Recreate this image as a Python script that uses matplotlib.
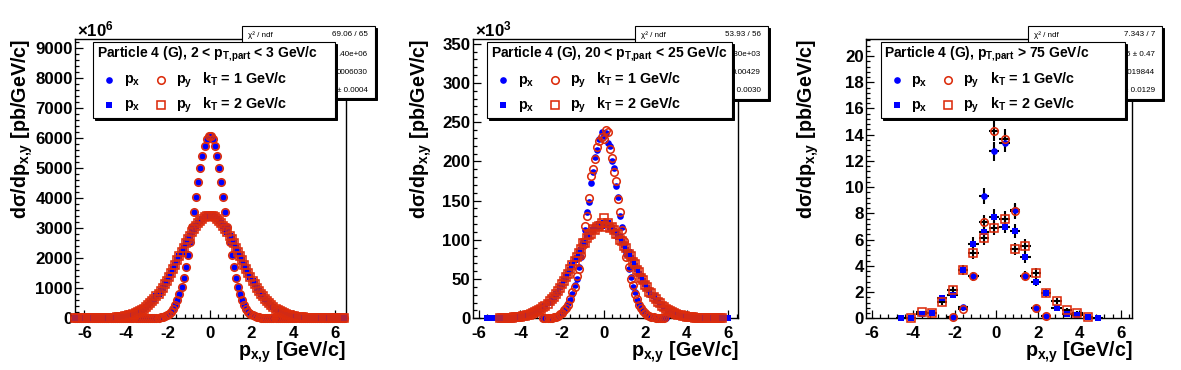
import numpy as np
import matplotlib
matplotlib.use('Agg')
import matplotlib.pyplot as plt
from matplotlib.patches import Rectangle
from matplotlib.lines import Line2D
from matplotlib.ticker import MultipleLocator

# ---- panel 1: 2 < pT,part < 3 GeV/c, y in units of 1e6 pb/GeV/c, 0.1 GeV/c bins
p1_first = -6.45
p1_width = 0.1
p1_px_k1 = [0.1, 0.1, 0.1, 0.1, 0.1, 0.1, 0.1, 0.1, 0.1, 0.1,
            0.1, 0.1, 0.1, 0.1, 0.1, 0.1, 0.1, 0.1, 0.1, 0.1,
            0.1, 0.1, 0.1, 0.1, 0.1, 0.1, 0.1, 0.1, 0.1, 0.1,
            0.1, 0.2, 0.3, 0.5, 1, 1, 2, 4, 7, 12,
            19, 30, 46, 71, 106, 156, 225, 318, 442, 601,
            803, 1052, 1352, 1704, 2106, 2555, 3038, 3546, 4058, 4556,
            5018, 5420, 5743, 5969, 6085,
            6085, 5969, 5743, 5420, 5018, 4556, 4058, 3546, 3038, 2555,
            2106, 1704, 1352, 1052, 803, 601, 442, 318, 225, 156,
            106, 71, 46, 30, 19, 12, 7, 4, 2, 1,
            1, 0.5, 0.3, 0.2, 0.1, 0.1, 0.1, 0.1, 0.1, 0.1,
            0.1, 0.1, 0.1, 0.1, 0.1, 0.1, 0.1, 0.1, 0.1, 0.1,
            0.1, 0.1, 0.1, 0.1, 0.1, 0.1, 0.1, 0.1, 0.1, 0.1,
            0.1, 0.1, 0.1, 0.1, 0.1]
p1_py_k1 = p1_px_k1  # px and py coincide within the marker size
p1_px_k2 = [0.3, 0.4, 0.5, 0.6, 0.8, 1, 1, 1, 2, 2,
            3, 4, 5, 6, 8, 10, 13, 16, 20, 25,
            31, 38, 47, 57, 69, 84, 101, 121, 144, 171,
            202, 237, 277, 323, 374, 432, 496, 566, 644, 728,
            820, 920, 1026, 1139, 1259, 1385, 1515, 1651, 1790, 1932,
            2074, 2217, 2359, 2497, 2631, 2759, 2880, 2992, 3093, 3183,
            3259, 3322, 3370, 3402, 3418,
            3418, 3402, 3370, 3322, 3259, 3183, 3093, 2992, 2880, 2759,
            2631, 2497, 2359, 2217, 2074, 1932, 1790, 1651, 1515, 1385,
            1259, 1139, 1026, 920, 820, 728, 644, 566, 496, 432,
            374, 323, 277, 237, 202, 171, 144, 121, 101, 84,
            69, 57, 47, 38, 31, 25, 20, 16, 13, 10,
            8, 6, 5, 4, 3, 2, 2, 1, 1, 1,
            0.8, 0.6, 0.5, 0.4, 0.3]
p1_py_k2 = p1_px_k2

# ---- panel 2: 20 < pT,part < 25 GeV/c, y in units of 1e3 pb/GeV/c, 0.1 GeV/c bins
p2_width = 0.1
p2_px_k1_first = -2.9
p2_px_k1 = [0.1, 0.2, 0.4, 0.6, 1.0, 1.5, 2.2, 3.3, 4.5, 7,
            9, 14, 19, 23, 31, 43, 50, 66, 78, 99,
            112, 136, 148, 173, 186, 206, 214, 229, 238,
            232, 236, 224, 219, 201, 191, 168, 154, 130, 117,
            95, 82, 63, 53, 40, 33, 23, 18, 12, 10,
            6.5, 4.8, 3.0, 2.2, 1.3, 0.9, 0.6, 0.4, 0.2, 0.1, 0.1]
p2_py_k1_first = -2.9
p2_py_k1 = [0.1, 0.2, 0.3, 0.7, 0.9, 1.6, 2.0, 3.4, 4.9, 6.4,
            10, 13, 17, 25, 33, 40, 54, 63, 81, 94,
            118, 131, 153, 181, 190, 203, 218, 226, 231,
            228, 240, 238, 216, 204, 186, 175, 152, 136, 112,
            99, 78, 66, 50, 42, 31, 25, 17, 13, 9,
            7, 4.4, 3.3, 2.0, 1.5, 0.9, 0.6, 0.4, 0.2, 0.1]
p2_px_k2_first = -5.6
p2_px_k2 = [0.1, 0.1, 0.1, 0.12, 0.13, 0.16, 0.2, 0.24, 0.36, 0.42,
            0.5, 0.72, 0.9, 1.0, 1.4, 1.6, 2.1, 2.4, 3.1, 3.6,
            4.6, 5.1, 6.5, 7.2, 9.0, 10.5, 11.6, 14.5, 15.8, 19.6,
            20.4, 24.8, 27.2, 31.5, 34.1, 39.8, 42.2, 48.9, 52.1, 57.6,
            61.2, 67.5, 74.2, 77.0, 84.1, 87.2, 94.0, 97.1, 103, 105,
            110, 112, 116, 116, 120, 118,
            121, 119, 122, 116, 115, 111, 110, 104, 103, 97,
            94, 87, 84, 77, 74, 67, 63, 56, 54, 47,
            44, 38, 36, 30, 29, 23, 22, 18, 17, 13,
            12.5, 9.6, 9.2, 7.0, 6.6, 5.0, 4.6, 3.4, 3.1, 2.3,
            2.1, 1.5, 1.4, 1.0, 0.9, 0.65, 0.6, 0.42, 0.38, 0.26,
            0.22, 0.17, 0.15, 0.12, 0.1, 0.1, 0.08, 0.07, 0.06, 0.05, 0.05]
p2_py_k2_first = -5.0
p2_py_k2 = [0.2, 0.26, 0.34, 0.44, 0.52, 0.7, 0.85, 1.1, 1.3, 1.7,
            2.0, 2.5, 3.0, 3.7, 4.4, 5.3, 6.3, 7.5, 8.8, 10.2,
            12.1, 13.8, 16.2, 18.6, 21.5, 24.3, 27.6, 31.2, 35.4, 38.7,
            43.5, 47.6, 53.2, 56.8, 62.6, 68.3, 72.5, 78.6, 83.0, 88.4,
            95.5, 96.0, 102, 106, 107, 114, 113, 117, 118, 121,
            128, 117, 121, 115, 117, 112, 108, 107, 100, 99,
            92, 89, 82, 79, 72, 69, 61, 59, 52, 49,
            43, 40, 34, 32, 27, 25, 21, 19, 16, 14.5,
            12, 10.3, 8.7, 7.6, 6.2, 5.4, 4.4, 3.7, 3.0, 2.5,
            2.0, 1.7, 1.3, 1.1, 0.85, 0.7, 0.55, 0.42, 0.35, 0.26,
            0.2, 0.16, 0.13, 0.11, 0.1, 0.09, 0.08, 0.07]

# ---- panel 3: pT,part > 75 GeV/c, 0.5 GeV/c bins, with errors
p3_x = [-4.6, -4.1, -3.6, -3.1, -2.6, -2.1, -1.6, -1.1, -0.6, -0.1,
        0.4, 0.9, 1.4, 1.9, 2.4, 2.9, 3.4, 3.9, 4.4, 4.9]
p3_px_k1 = [None, None, None, None, None, 0.1, 0.85, 3.2, 9.3, 12.75,
            13.4, 8.25, 3.25, 0.8, 0.2, None, None, None, None, None]
p3_px_k1_err = [None, None, None, None, None, 0.06, 0.18, 0.36, 0.62, 0.72,
                0.74, 0.58, 0.36, 0.18, 0.09, None, None, None, None, None]
p3_py_k1 = [None, None, None, None, None, 0.1, 0.72, 3.2, 7.35, 14.3,
            13.7, 8.15, 3.25, 0.8, 0.2, None, None, None, None, None]
p3_py_k1_err = [None, None, None, None, None, 0.06, 0.17, 0.36, 0.55, 0.76,
                0.74, 0.58, 0.36, 0.18, 0.09, None, None, None, None, None]
p3_px_k2 = [0.05, 0.05, 0.35, 0.4, 1.55, 1.8, 3.65, 5.7, 6.55, 7.75,
            7.0, 6.65, 4.65, 2.8, 1.9, 0.8, 0.35, 0.25, 0.1, 0.05]
p3_px_k2_err = [0.05, 0.05, 0.12, 0.13, 0.25, 0.27, 0.38, 0.48, 0.52, 0.56,
                0.53, 0.52, 0.43, 0.33, 0.28, 0.18, 0.12, 0.1, 0.06, 0.05]
p3_py_k2 = [None, 0.05, 0.45, 0.4, 1.25, 2.15, 3.7, 4.95, 6.1, 6.9,
            7.6, 5.3, 5.55, 3.45, 1.95, 1.35, 0.65, 0.4, 0.1, None]
p3_py_k2_err = [None, 0.05, 0.13, 0.13, 0.22, 0.29, 0.38, 0.45, 0.5, 0.53,
                0.55, 0.46, 0.47, 0.37, 0.28, 0.23, 0.16, 0.13, 0.06, None]
p3_xerr = 0.25

titles = ['Particle 4 (G), 2 < p$_{T{,}part}$ < 3 GeV/c',
          'Particle 4 (G), 20 < p$_{T{,}part}$ < 25 GeV/c',
          'Particle 4 (G), p$_{T{,}part}$ > 75 GeV/c']
# only the parts of the fit boxes that stick out from under the legends
stat_rows = [['69.06 / 65', '.40e+06', '0006030', '\u00b1 0.0004'],
             ['53.93 / 56', '730e+03', '0.00429', '\u00b1 0.0030'],
             ['7.343 / 7', '5 \u00b1 0.47', '.019844', '\u00b1 0.0129']]
y_scale_labels = ['\u00d710$^{6}$', '\u00d710$^{3}$', None]

BLUE = '#0000ff'
RED = '#dc2c0c'

plt.rcParams['font.family'] = ['Liberation Sans', 'DejaVu Sans']
plt.rcParams['font.weight'] = 'bold'
plt.rcParams['mathtext.fontset'] = 'custom'
plt.rcParams['mathtext.rm'] = 'Liberation Sans:bold'
plt.rcParams['mathtext.it'] = 'Liberation Sans:bold'
plt.rcParams['mathtext.bf'] = 'Liberation Sans:bold'
plt.rcParams['axes.unicode_minus'] = False

W, H = 1181, 370
fig = plt.figure(figsize=(W / 100, H / 100), dpi=100)


def fx(x):
    return x / W


def fy(y):
    return 1 - y / H


def add_axes(left, top, right, bottom):
    return fig.add_axes([fx(left), fy(bottom), (right - left) / W, (bottom - top) / H])


def bins(first, width, vals):
    return first + width * np.arange(len(vals))


def arr(vals):
    return np.array(vals, dtype=float)


styles = {
    'px_k1': dict(marker='o', mfc=BLUE, mec=BLUE, ms=4.8, mew=0),
    'py_k1': dict(marker='o', mfc='none', mec=RED, ms=5.4, mew=1.15),
    'px_k2': dict(marker='s', mfc=BLUE, mec=BLUE, ms=4.5, mew=0),
    'py_k2': dict(marker='s', mfc='none', mec=RED, ms=5.3, mew=1.15),
}


def style_axes(ax, xlim, ylim, ymaj, ymin):
    ax.set_xlim(*xlim)
    ax.set_ylim(*ylim)
    ax.xaxis.set_major_locator(MultipleLocator(2))
    ax.xaxis.set_minor_locator(MultipleLocator(0.4))
    ax.yaxis.set_major_locator(MultipleLocator(ymaj))
    ax.yaxis.set_minor_locator(MultipleLocator(ymin))
    ax.tick_params(which='both', direction='in', top=False, right=False, width=0.9)
    ax.tick_params(which='major', length=5.9)
    ax.tick_params(which='minor', length=2.9)
    ax.tick_params(axis='x', which='major', pad=5.5, labelsize=12.2)
    ax.tick_params(axis='y', which='major', pad=1.5, labelsize=12.2)
    for lab in ax.get_xticklabels() + ax.get_yticklabels():
        lab.set_fontweight('bold')
    for sp in ax.spines.values():
        sp.set_linewidth(1.0)


def draw_box(left, top, right, bottom, z):
    shadow = Rectangle((fx(left + 2), fy(bottom + 2)), (right - left) / W, (bottom - top) / H,
                       transform=fig.transFigure, facecolor='black', edgecolor='black',
                       lw=0.7, zorder=z)
    box = Rectangle((fx(left), fy(bottom)), (right - left) / W, (bottom - top) / H,
                    transform=fig.transFigure, facecolor='white', edgecolor='black',
                    lw=0.8, zorder=z + 0.1)
    fig.add_artist(shadow)
    fig.add_artist(box)


def draw_stats(left, top, right, bottom, rows):
    draw_box(left, top, right, bottom, 4)
    ys = [top + 9, top + 28, top + 46, top + 64]
    fig.text(fx(left + 6), fy(ys[0]), '\u03c7\u00b2 / ndf', fontsize=5.8, fontweight='normal',
             va='center', ha='left', zorder=5)
    for y, s in zip(ys, rows):
        fig.text(fx(right - 7.5), fy(y), s, fontsize=5.8, fontweight='normal',
                 va='center', ha='right', zorder=5)


def draw_legend(left, top, right, bottom, title):
    draw_box(left, top, right, bottom, 6)
    fs = 10.4
    fig.text(fx(left + 3.6), fy(top + 15.5), title, fontsize=10.0, va='baseline', ha='left', zorder=8)
    rows = [(top + 41.5, 'px_k1', 'py_k1', 'k$_{T}$ = 1 GeV/c'),
            (top + 66.5, 'px_k2', 'py_k2', 'k$_{T}$ = 2 GeV/c')]
    for base, sx, sy, kt in rows:
        for dx, key in ((16, sx), (67.3, sy)):
            st = styles[key]
            m = Line2D([fx(left + dx)], [fy(base - 3.5)], transform=fig.transFigure,
                       linestyle='none', marker=st['marker'], mfc=st['mfc'], mec=st['mec'],
                       ms=st['ms'], mew=st['mew'], zorder=8)
            fig.add_artist(m)
        fig.text(fx(left + 30.5), fy(base), 'p$_{x}$', fontsize=fs, va='baseline', zorder=8)
        fig.text(fx(left + 82.3), fy(base), 'p$_{y}$', fontsize=fs, va='baseline', zorder=8)
        fig.text(fx(left + 109), fy(base), kt, fontsize=fs, va='baseline', zorder=8)


def plot_series(ax, x, y, key):
    st = styles[key]
    ax.plot(x, arr(y), linestyle='none', marker=st['marker'], mfc=st['mfc'], mec=st['mec'],
            ms=st['ms'], mew=st['mew'], clip_on=False, zorder=3)


# frame positions in pixels: left, top, right, bottom
frames = [(75, 39, 345.5, 318.3), (472.7, 39, 738.3, 318.3), (866, 39, 1132.3, 318.3)]
xlims = [(-6.45, 6.5), (-6.3, 6.48), (-6.27, 6.54)]
ylims = [(0, 9310), (0, 356), (0, 21.3)]
ymajors = [1000, 50, 2]
yminors = [200, 10, 0.4]
ylabel_x = [22.5, 421, 808]
stat_boxes = [(241.7, 26, 375, 98.3), (635, 26, 768.3, 99), (1028.3, 26, 1162.3, 99)]
legend_boxes = [(93.3, 41.7, 335, 118.3), (487.3, 42.3, 731.7, 118.3), (880.7, 42.3, 1125, 118.3)]

axes = [add_axes(*f) for f in frames]

# panel 1
ax = axes[0]
x1 = bins(p1_first, p1_width, p1_px_k1)
plot_series(ax, x1, p1_px_k1, 'px_k1')
plot_series(ax, x1, p1_py_k1, 'py_k1')
x1w = bins(p1_first, p1_width, p1_px_k2)
plot_series(ax, x1w, p1_px_k2, 'px_k2')
plot_series(ax, x1w, p1_py_k2, 'py_k2')

# panel 2
ax = axes[1]
plot_series(ax, bins(p2_px_k1_first, p2_width, p2_px_k1), p2_px_k1, 'px_k1')
plot_series(ax, bins(p2_py_k1_first, p2_width, p2_py_k1), p2_py_k1, 'py_k1')
plot_series(ax, bins(p2_px_k2_first, p2_width, p2_px_k2), p2_px_k2, 'px_k2')
plot_series(ax, bins(p2_py_k2_first, p2_width, p2_py_k2), p2_py_k2, 'py_k2')

# panel 3 with error bars
ax = axes[2]
for key, y, e in (('px_k1', p3_px_k1, p3_px_k1_err), ('py_k1', p3_py_k1, p3_py_k1_err),
                  ('px_k2', p3_px_k2, p3_px_k2_err), ('py_k2', p3_py_k2, p3_py_k2_err)):
    ax.errorbar(p3_x, arr(y), yerr=arr(e), xerr=p3_xerr, fmt='none', ecolor='black',
                elinewidth=1.5, capsize=0, clip_on=False, zorder=2)
    plot_series(ax, p3_x, y, key)

for i, ax in enumerate(axes):
    style_axes(ax, xlims[i], ylims[i], ymajors[i], yminors[i])
    left, top, right, bottom = frames[i]
    fig.text(fx(right), fy(356.5), 'p$_{x{,}y}$ [GeV/c]', fontsize=14.2, ha='right', va='baseline')
    fig.text(fx(ylabel_x[i]), fy(38.5), 'd\u03c3/dp$_{x{,}y}$ [pb/GeV/c]', fontsize=14.2,
             rotation=90, ha='center', va='top')
    if y_scale_labels[i]:
        fig.text(fx(left + 2), fy(36.7), y_scale_labels[i], fontsize=12.2, ha='left', va='baseline')
    draw_stats(*stat_boxes[i], stat_rows[i])
    draw_legend(*legend_boxes[i], titles[i])

fig.savefig('out.png', dpi=100)
